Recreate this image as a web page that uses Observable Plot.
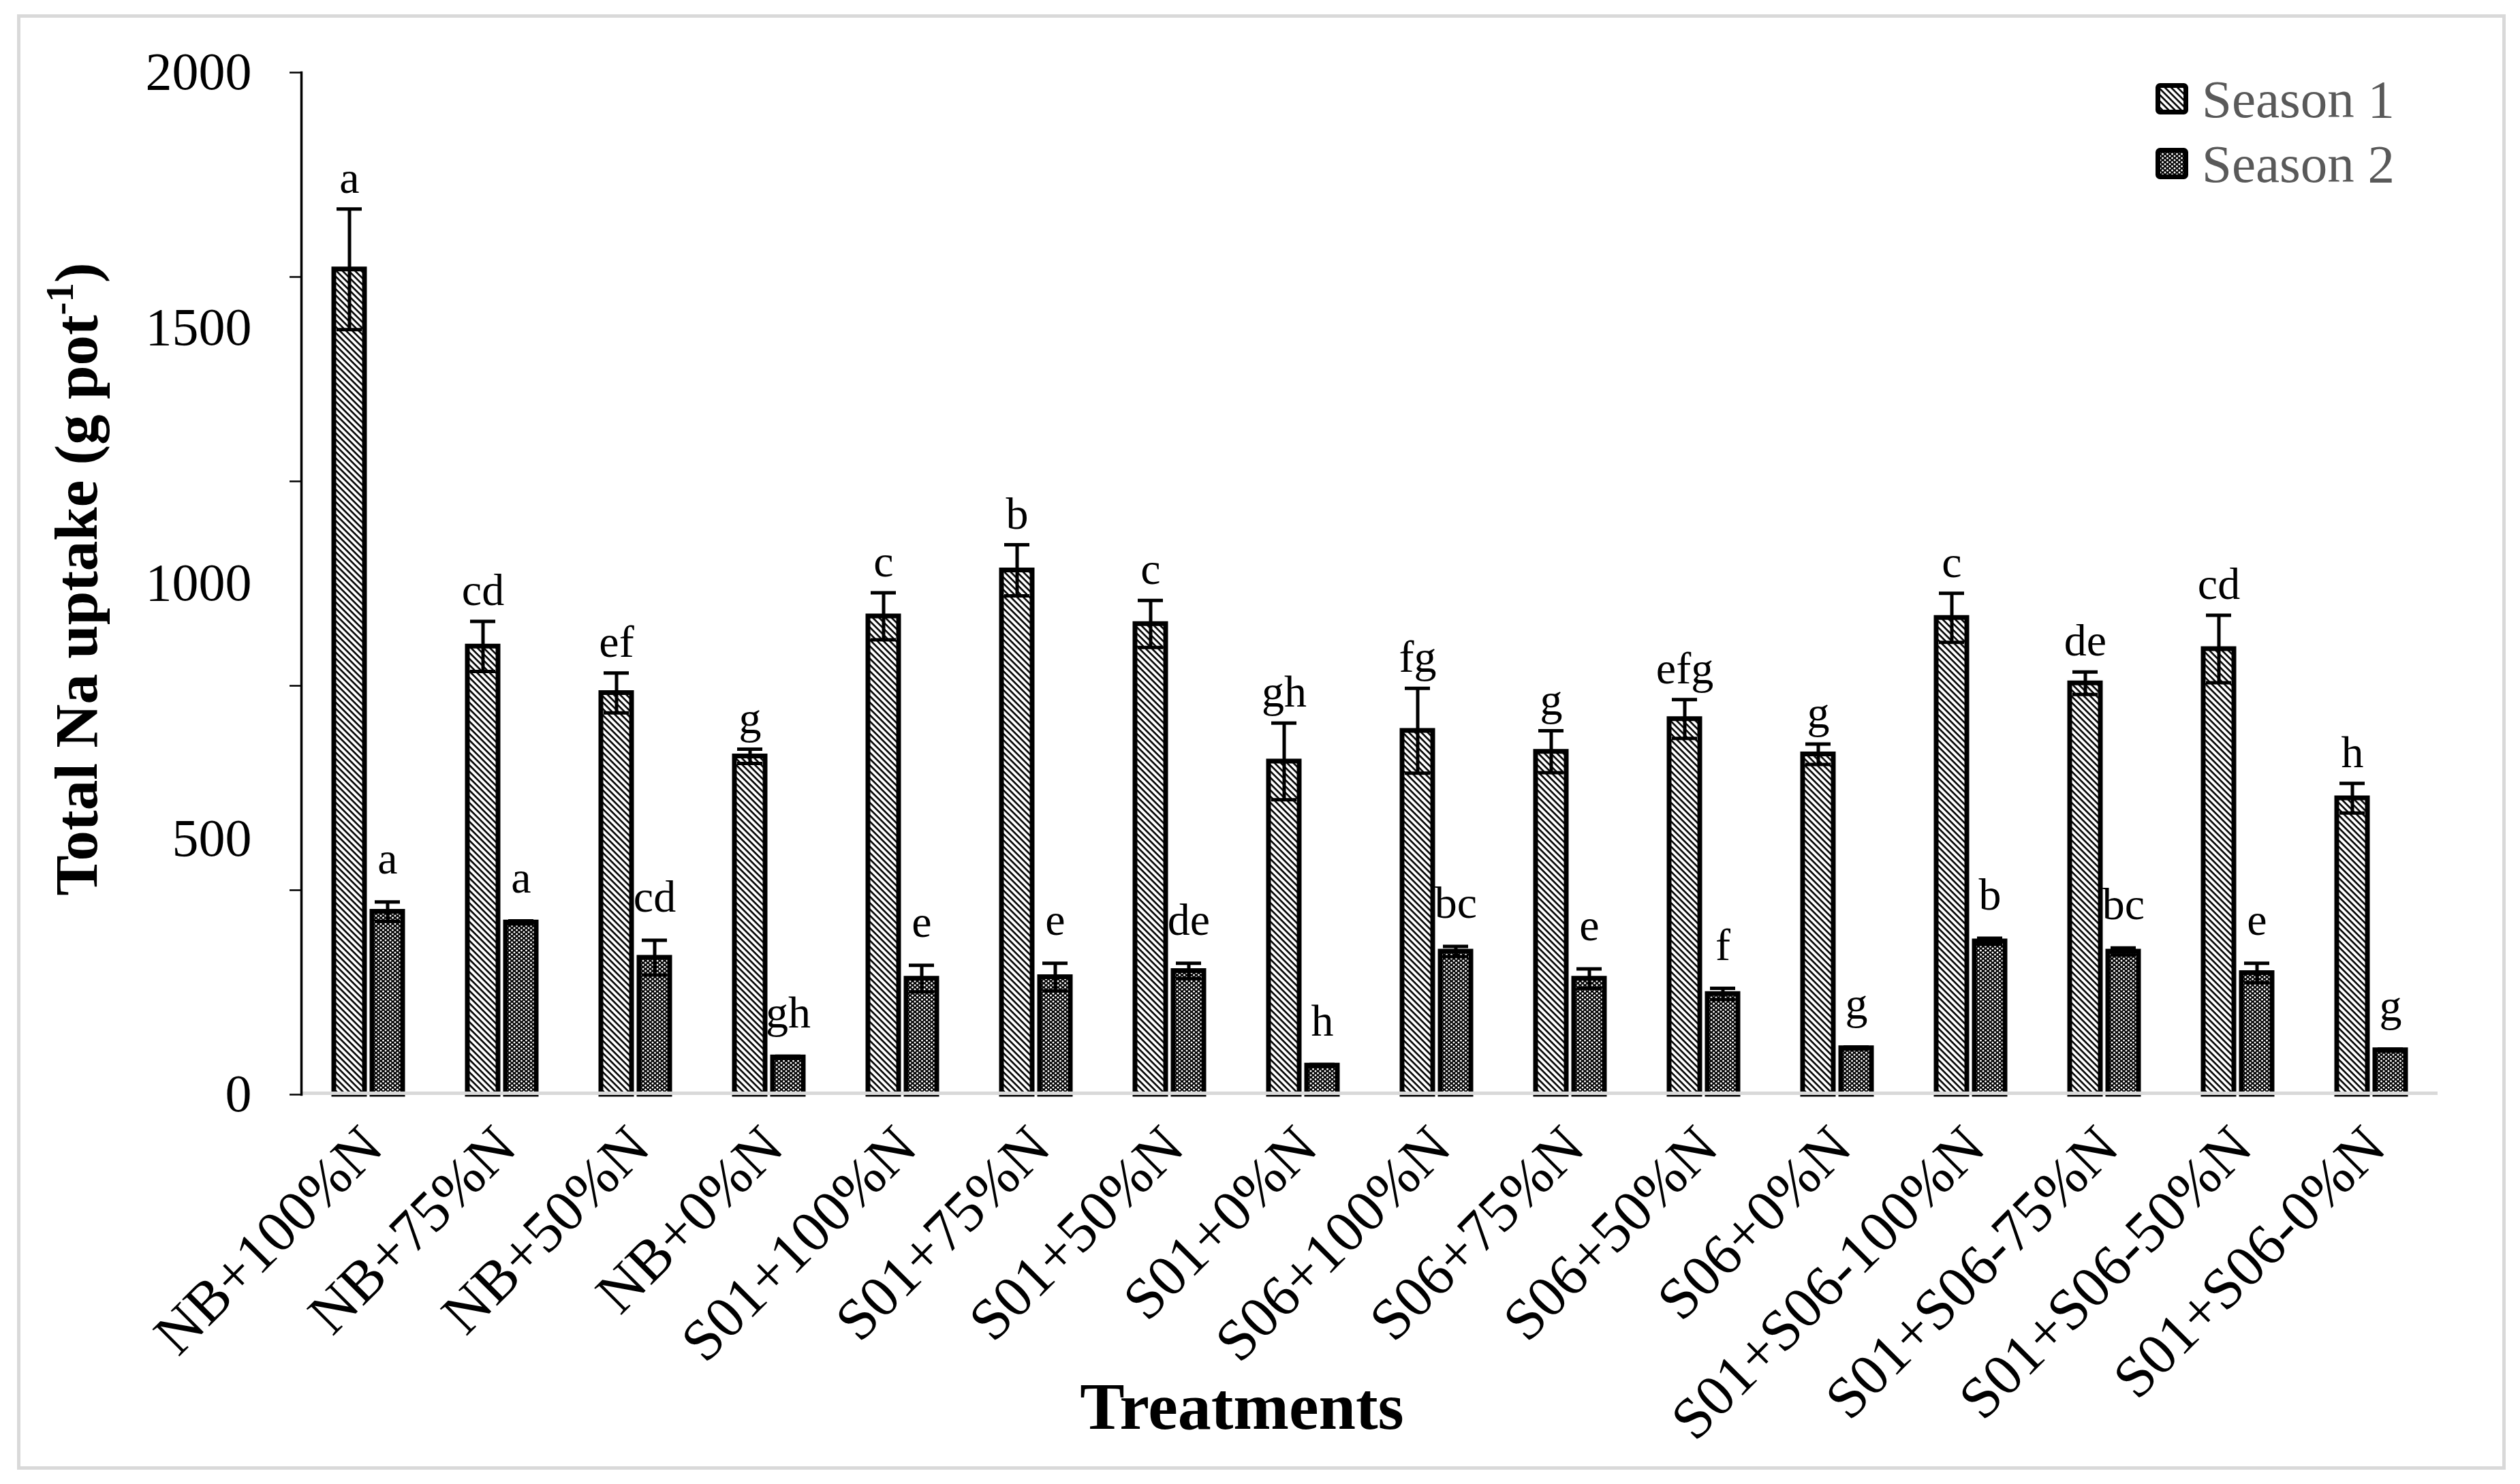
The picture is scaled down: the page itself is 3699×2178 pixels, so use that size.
<!DOCTYPE html>
<html>
<head>
<meta charset="utf-8">
<script src="https://cdn.jsdelivr.net/npm/d3@7"></script>
<script src="https://cdn.jsdelivr.net/npm/@observablehq/plot@0.6"></script>
<style>
html, body { margin: 0; padding: 0; background: #fff; }
#wrap { position: relative; width: 3699px; height: 2178px; overflow: hidden; font-family: "Liberation Serif", "Times New Roman", serif; background: #fff; }
#border { position: absolute; left: 25px; top: 21px; width: 3653px; height: 2136px; border: 5px solid #d9d9d9; box-sizing: border-box; pointer-events: none; }
#ytitle { position: absolute; left: 112px; top: 850px; transform: translate(-50%, -50%) rotate(-90deg); font-weight: bold; font-size: 89px; white-space: nowrap; line-height: 1; color: #000; }
#ytitle sup { font-size: 0.64em; vertical-align: 0.6em; line-height: 0; }
#xtitle { position: absolute; left: 1823px; top: 2064px; transform: translate(-50%, -50%); font-weight: bold; font-size: 98px; white-space: nowrap; line-height: 1; color: #000; }
.legsw { position: absolute; width: 48px; height: 46px; }
.legtxt { position: absolute; font-size: 79px; line-height: 1; color: #595959; white-space: nowrap; }
</style>
</head>
<body>
<svg width="0" height="0" style="position:absolute;left:0;top:0">
  <defs>
    <pattern id="hatchS1" patternUnits="userSpaceOnUse" width="6.5" height="6.5" patternTransform="rotate(45)">
      <rect width="6.5" height="6.5" fill="#fff"></rect>
      <rect width="6.5" height="2.6" fill="#000"></rect>
    </pattern>
    <pattern id="hatchS2" patternUnits="userSpaceOnUse" width="7" height="6">
      <rect width="7" height="6" fill="#000"></rect>
      <circle cx="0" cy="0" r="1.5" fill="#fff"></circle>
      <circle cx="7" cy="0" r="1.5" fill="#fff"></circle>
      <circle cx="0" cy="6" r="1.5" fill="#fff"></circle>
      <circle cx="7" cy="6" r="1.5" fill="#fff"></circle>
      <circle cx="3.5" cy="3" r="1.5" fill="#fff"></circle>
    </pattern>
  </defs>
</svg>
<div id="wrap">
  <div id="chart"></div>
  <div id="ytitle">Total Na uptake (g pot<sup>-1</sup>)</div>
  <div id="xtitle">Treatments</div>
  <div id="legend"></div>
  <div id="border"></div>
</div>
<script>
// ---- data ----
const treatments = ["NB+100%N", "NB+75%N", "NB+50%N", "NB+0%N",
  "S01+100%N", "S01+75%N", "S01+50%N", "S01+0%N",
  "S06+100%N", "S06+75%N", "S06+50%N", "S06+0%N",
  "S01+S06-100%N", "S01+S06-75%N", "S01+S06-50%N", "S01+S06-0%N"];
const seasons = ["Season 1", "Season 2"];
const season1Values = [1615, 877, 786, 662, 936, 1026, 921, 652, 712, 671, 735, 666, 933, 805, 872, 580];
const season1Errors = [118, 49, 39, 14, 46, 50, 46, 75, 83, 41, 38, 20, 48, 22, 66, 29];
const season1Letters = ["a", "cd", "ef", "g", "c", "b", "c", "gh", "fg", "g", "efg", "g", "c", "de", "cd", "h"];
const season2Values = [358, 337, 268, 73, 227, 230, 242, 57, 280, 227, 197, 91, 300, 280, 238, 87];
const season2Errors = [19, 3, 34, 2, 26, 27, 15, 2, 10, 19, 11, 2, 6, 7, 19, 2];
const season2Letters = ["a", "a", "cd", "gh", "e", "e", "de", "h", "bc", "e", "f", "g", "b", "bc", "e", "g"];
const yTickMarks = [0, 400, 800, 1200, 1600, 2000];
const yTickLabels = [0, 500, 1000, 1500, 2000];

// ---- table built from the arrays ----
const rows = [];
treatments.forEach((t, i) => {
  rows.push({treatment: t, season: seasons[0], value: season1Values[i], err: season1Errors[i], letter: season1Letters[i]});
  rows.push({treatment: t, season: seasons[1], value: season2Values[i], err: season2Errors[i], letter: season2Letters[i]});
});
rows.forEach(r => { r.hi = r.value + r.err; r.lo = r.value - r.err; });

const fills = ["url(#hatchS1)", "url(#hatchS2)"];

const chart = Plot.plot({
  width: 3699,
  height: 2178,
  marginLeft: 436,
  marginRight: 116,
  marginTop: 106,
  marginBottom: 572,
  style: {fontFamily: "Liberation Serif, Times New Roman, serif", background: "transparent", color: "#000", overflow: "visible"},
  fx: {domain: treatments, paddingInner: 0, paddingOuter: 0, axis: null, label: null},
  x: {domain: seasons, paddingInner: 0.2, paddingOuter: 0.83, axis: null},
  y: {domain: [0, 2000], axis: null},
  color: {domain: seasons, range: fills},
  marks: [
    Plot.barY(rows, {fx: "treatment", x: "season", y: "value", fill: "season", stroke: "#000", strokeWidth: 7}),
    Plot.ruleY([0], {stroke: "#d9d9d9", strokeWidth: 5, dy: -2}),
    Plot.ruleX(rows, {fx: "treatment", x: "season", y1: "lo", y2: "hi", stroke: "#000", strokeWidth: 5}),
    Plot.tickY(rows, {fx: "treatment", x: "season", y: "hi", stroke: "#000", strokeWidth: 5, insetLeft: 4, insetRight: 4}),
    Plot.tickY(rows, {fx: "treatment", x: "season", y: "lo", stroke: "#000", strokeWidth: 5, insetLeft: 4, insetRight: 4}),
    Plot.text(rows.filter(r => r.season === seasons[0]), {fx: "treatment", x: "season", y: "hi", text: "letter", lineAnchor: "bottom", dy: -24, fontSize: 66, fill: "#000"}),
    Plot.text(rows.filter(r => r.season === seasons[1]), {fx: "treatment", x: "season", y: "hi", text: "letter", lineAnchor: "bottom", dy: -42, fontSize: 66, fill: "#000"}),
    Plot.axisY(yTickMarks, {tickSize: 17, tickFormat: () => "", strokeWidth: 2.5, stroke: "#000"}),
    Plot.axisY(yTickLabels, {tickSize: 0, tickPadding: 73, fontSize: 78, tickFormat: d3.format("d"), fill: "#000"}),
    Plot.frame({anchor: "left", facetAnchor: "left", stroke: "#000", strokeWidth: 3.5}),
    Plot.axisFx({anchor: "bottom", tickSize: 0, tickPadding: 62, tickRotate: -45, fontSize: 86, label: null, dx: 6, fill: "#000"})
  ]
});
document.getElementById("chart").appendChild(chart);

// ---- legend ----
const legend = document.getElementById("legend");
const legRows = [{swTop: 122, txtTop: 106}, {swTop: 217, txtTop: 201}];
seasons.forEach((s, i) => {
  const sw = document.createElement("div");
  sw.className = "legsw";
  sw.style.left = "3164px";
  sw.style.top = legRows[i].swTop + "px";
  sw.innerHTML = `<svg width="48" height="46"><rect x="3.5" y="3.5" width="41" height="39" rx="3" fill="${fills[i]}" stroke="#000" stroke-width="7"></rect></svg>`;
  legend.appendChild(sw);
  const tx = document.createElement("div");
  tx.className = "legtxt";
  tx.style.left = "3232px";
  tx.style.top = legRows[i].txtTop + "px";
  tx.textContent = s;
  legend.appendChild(tx);
});
</script>
</body>
</html>
